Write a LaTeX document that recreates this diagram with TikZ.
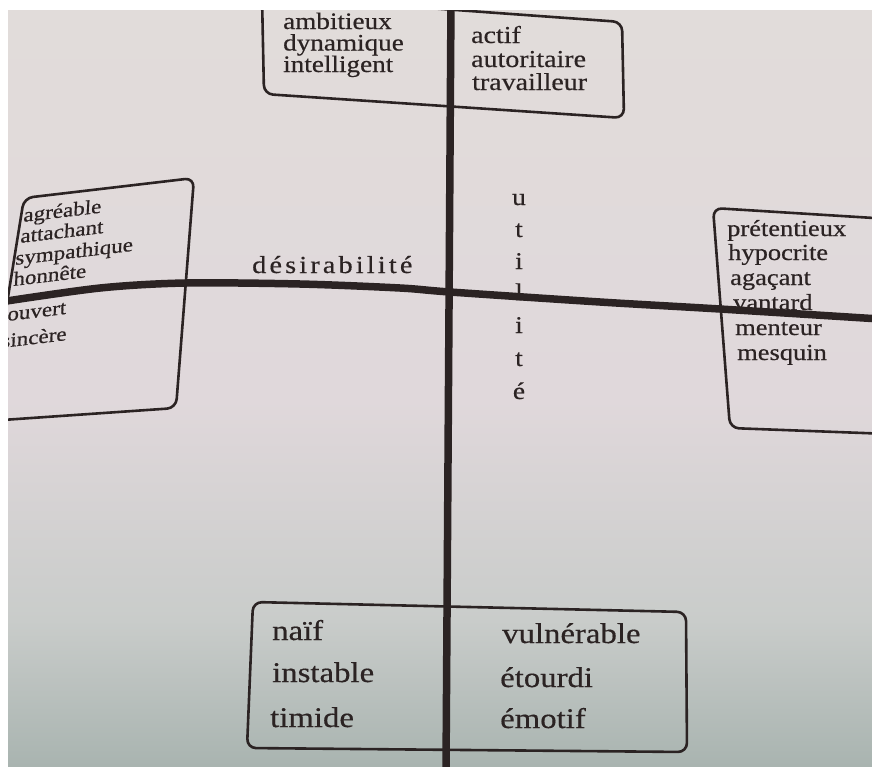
\documentclass[tikz,border=0pt]{standalone}
\usepackage{fontspec}
\setmainfont{Liberation Serif}[FakeStretch=1.15, FakeBold=0.5]
\definecolor{ink}{HTML}{2B2323}
\definecolor{paperTop}{HTML}{E1DCDA}
\definecolor{paperMid}{HTML}{E0D8DB}
\definecolor{paperLow}{HTML}{C9CCCA}
\definecolor{paperBot}{HTML}{A9B4B0}
\tikzset{
  axisline/.style={draw=ink, line width=7.5pt},
  boxline/.style={draw=ink, line width=2.6pt, rounded corners=9pt},
  lbl/.style={anchor=base west, inner sep=0pt, text=ink},
  letter/.style={anchor=base, inner sep=0pt, text=ink, font=\fontsize{24}{26}\selectfont},
  ftop/.style={font=\fontsize{24.3}{26}\selectfont},
  ftopl/.style={font=\fontsize{23.6}{25}\selectfont},
  fleft/.style={font=\fontsize{20}{21.5}\selectfont, yslant=0.12, xslant=0.05},
  fright/.style={font=\fontsize{23}{25}\selectfont},
  fbot/.style={font=\fontsize{28.5}{30}\selectfont}
}
\begin{document}
\begin{tikzpicture}[x=1pt,y=-1pt]
\useasboundingbox (0,0) rectangle (872,766);
\fill[white] (0,0) rectangle (872,766);
\shade[top color=paperTop, bottom color=paperMid] (8,10) rectangle (872,400.5);
\shade[top color=paperMid, bottom color=paperLow] (8,400) rectangle (872,620.5);
\shade[top color=paperLow, bottom color=paperBot] (8,620) rectangle (872,766);
\begin{scope}
\clip (8,10) rectangle (872,766);
% boxes
\draw[boxline] (262,-4) -- (264,94) -- (624,118) -- (622,22) -- cycle;
\draw[boxline] (24,198) -- (194,178) -- (176,408) -- (-12,421) -- cycle;
\draw[boxline] (713,208) -- (730,428) -- (890,434) -- (890,219) -- cycle;
\draw[boxline] (253,602) -- (686,612) -- (687,752) -- (247,748) -- cycle;
% axes
\draw[axisline] plot[smooth] coordinates {(0,302) (100,288) (185,283) (300,284) (400,288) (450,292) (600,302) (720,309) (880,319)};
\draw[axisline] (451,0) -- (446,770);
% top box
\node[lbl,ftopl] (t1) at (283,29) {ambitieux};
\node[lbl,ftopl] (t2) at (283,50.5) {dynamique};
\node[lbl,ftopl] (t3) at (283,72) {intelligent};
\node[lbl,ftop] (t4) at (471,43) {actif};
\node[lbl,ftop] (t5) at (471,67) {autoritaire};
\node[lbl,ftop] (t6) at (472,90) {travailleur};
% left box
\node[lbl,fleft] (l1) at (23,222) {agréable};
\node[lbl,fleft] (l2) at (20,243) {attachant};
\node[lbl,fleft] (l3) at (15,265) {sympathique};
\node[lbl,fleft] (l4) at (13,286) {honnête};
\node[lbl,fleft] (l5) at (7,321) {ouvert};
\node[lbl,fleft] (l6) at (1,348) {sincère};
% right box
\node[lbl,fright] (r1) at (727,236) {prétentieux};
\node[lbl,fright] (r2) at (728,260) {hypocrite};
\node[lbl,fright] (r3) at (730,285) {agaçant};
\node[lbl,fright] (r4) at (733,310) {vantard};
\node[lbl,fright] (r5) at (735,335) {menteur};
\node[lbl,fright] (r6) at (737,360) {mesquin};
% bottom box
\node[lbl,fbot] (b1) at (272,640) {naïf};
\node[lbl,fbot] (b2) at (272,682) {instable};
\node[lbl,fbot] (b3) at (270,727) {timide};
\node[lbl,fbot] (b4) at (502,643) {vulnérable};
\node[lbl,fbot] (b5) at (500,687) {étourdi};
\node[lbl,fbot] (b6) at (500,728) {émotif};
% axis labels
\node[lbl, font=\fontsize{24.5}{26}\selectfont\addfontfeature{LetterSpace=13}] (des) at (252,273) {désirabilité};
\node[letter] (u1) at (519,205) {u};
\node[letter] (u2) at (519,237) {t};
\node[letter] (u3) at (519,269) {i};
\node[letter] (u4) at (519,300) {l};
\node[letter] (u5) at (519,333) {i};
\node[letter] (u6) at (519,366) {t};
\node[letter] (u7) at (519,399) {é};
\end{scope}
\end{tikzpicture}
\end{document}
